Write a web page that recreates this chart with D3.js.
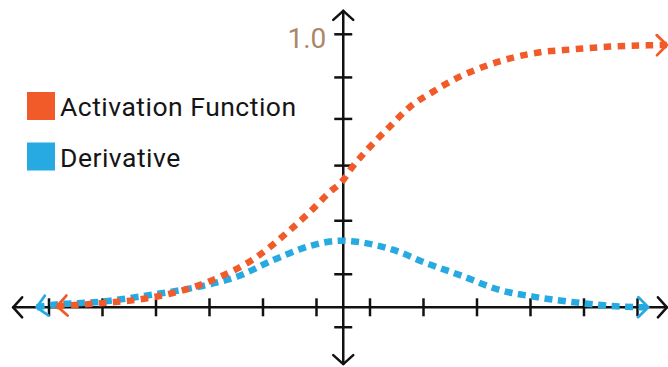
<!DOCTYPE html>
<html>
<head>
<meta charset="utf-8">
<script src="https://cdn.jsdelivr.net/npm/d3@7"></script>
<style>
  html, body { margin: 0; padding: 0; background: #ffffff; }
  svg { display: block; }
  text { font-family: Roboto, "Noto Sans", sans-serif; }
</style>
</head>
<body>
<svg id="chart" width="668" height="367"></svg>
<script>
// Sigmoid activation and its derivative, sampled points
const activationX = [-5.35, -4.55, -3.67, -2.86, -2.37, -1.65, -1.03, -0.62, -0.25, 0.0, 0.13, 0.5, 0.84, 1.25, 1.68, 2.18, 2.62, 3.12, 3.68, 4.3, 4.99, 5.79, 6.05];
const activationY = [0.004, 0.015, 0.033, 0.07, 0.106, 0.18, 0.277, 0.35, 0.423, 0.466, 0.503, 0.588, 0.656, 0.735, 0.79, 0.845, 0.881, 0.912, 0.934, 0.945, 0.955, 0.96, 0.961];

const derivativeX = [-5.73, -5.48, -4.55, -3.61, -2.55, -1.99, -1.31, -0.56, -0.06, 0.25, 0.94, 1.56, 2.18, 2.93, 3.55, 4.48, 5.17, 5.7];
const derivativeY = [0.0, 0.008, 0.02, 0.045, 0.082, 0.112, 0.173, 0.228, 0.244, 0.24, 0.21, 0.161, 0.118, 0.063, 0.039, 0.015, 0.003, 0.0];

const seriesNames = ["Activation Function", "Derivative"];
const seriesColors = ["#f15a29", "#27aae1"];

// Axis ticks (data units) and the single y label
const xTickValues = [-5.5, -4.5, -3.5, -2.5, -1.5, -0.5, 0.5, 1.5, 2.5, 3.5, 4.5, 5.5];
const yTickValues = [-0.073, 0.121, 0.317, 0.519, 0.69, 0.842, 1.0];
const yLabelValue = 1.0;
const yLabelText = "1.0";

// Axis extents (data units)
const xExtent = [-6.17, 6.05];
const yExtent = [-0.208, 1.086];

const svg = d3.select("#chart");

const x = d3.scaleLinear().domain([0, 1]).range([343.25, 396.75]);
const y = d3.scaleLinear().domain([0, 1]).range([307.3, 34.3]);

// Arrowhead markers for the curves
const defs = svg.append("defs");
seriesColors.forEach((c, i) => {
  defs.append("marker")
    .attr("id", "arrow" + i)
    .attr("markerUnits", "userSpaceOnUse")
    .attr("viewBox", "-14 -13 17 26")
    .attr("markerWidth", 17)
    .attr("markerHeight", 26)
    .attr("refX", 0)
    .attr("refY", 0)
    .attr("orient", "auto-start-reverse")
    .append("path")
    .attr("d", "M-10,-10L0,0L-10,10")
    .attr("fill", "none")
    .attr("stroke", c)
    .attr("stroke-width", 2.8)
    .attr("stroke-linecap", "round")
    .attr("stroke-linejoin", "round");
});

// Axes
const axes = svg.append("g").attr("stroke", "#111").attr("fill", "none")
  .attr("stroke-width", 2.5).attr("stroke-linecap", "round");

const x0 = x(0), y0 = y(0);
const xl = x(xExtent[0]), xr = x(xExtent[1]);
const yt = y(yExtent[1]), yb = y(yExtent[0]);

axes.append("line").attr("x1", xl).attr("x2", xr).attr("y1", y0).attr("y2", y0);
axes.append("line").attr("x1", x0).attr("x2", x0).attr("y1", yt).attr("y2", yb);

const ah = 9, aw = 10;
axes.append("path").attr("d", `M${xl + ah},${y0 - aw}L${xl},${y0}L${xl + ah},${y0 + aw}`).attr("stroke-linejoin", "round");
axes.append("path").attr("d", `M${xr - ah},${y0 - aw}L${xr},${y0}L${xr - ah},${y0 + aw}`).attr("stroke-linejoin", "round");
axes.append("path").attr("d", `M${x0 - aw},${yt + ah}L${x0},${yt}L${x0 + aw},${yt + ah}`).attr("stroke-linejoin", "round");
axes.append("path").attr("d", `M${x0 - aw},${yb - ah}L${x0},${yb}L${x0 + aw},${yb - ah}`).attr("stroke-linejoin", "round");

const tickHalf = 9;
axes.selectAll(".xtick").data(xTickValues).join("line")
  .attr("class", "xtick")
  .attr("x1", d => x(d)).attr("x2", d => x(d))
  .attr("y1", y0 - tickHalf).attr("y2", y0 + tickHalf)
  .attr("stroke-linecap", "butt");

axes.selectAll(".ytick").data(yTickValues).join("line")
  .attr("class", "ytick")
  .attr("y1", d => y(d)).attr("y2", d => y(d))
  .attr("x1", x0 - tickHalf).attr("x2", x0 + tickHalf)
  .attr("stroke-linecap", "butt");

svg.append("text")
  .attr("x", x0 - 17)
  .attr("y", y(yLabelValue) + 13.5)
  .attr("text-anchor", "end")
  .attr("font-size", 28)
  .attr("fill", "#a8876a")
  .text(yLabelText);

// Curves
const line = d3.line()
  .x(d => x(d[0]))
  .y(d => y(d[1]))
  .curve(d3.curveMonotoneX);

const derivativePts = derivativeX.map((v, i) => [v, derivativeY[i]]);
const activationPts = activationX.map((v, i) => [v, activationY[i]]);

svg.append("path")
  .datum(derivativePts)
  .attr("d", line)
  .attr("fill", "none")
  .attr("stroke", seriesColors[1])
  .attr("stroke-width", 6.5)
  .attr("stroke-dasharray", "8 5.5")
  .attr("marker-start", "url(#arrow1)")
  .attr("marker-end", "url(#arrow1)");

svg.append("path")
  .datum(activationPts)
  .attr("d", line)
  .attr("fill", "none")
  .attr("stroke", seriesColors[0])
  .attr("stroke-width", 6.5)
  .attr("stroke-dasharray", "7.5 6.5")
  .attr("marker-start", "url(#arrow0)")
  .attr("marker-end", "url(#arrow0)");

// Legend
const legend = svg.append("g");
const legendRows = legend.selectAll("g").data(seriesNames).join("g")
  .attr("transform", (d, i) => `translate(27,${92 + i * 50.5})`);
legendRows.append("rect")
  .attr("width", 28).attr("height", 28)
  .attr("fill", (d, i) => seriesColors[i]);
legendRows.append("text")
  .attr("x", 33).attr("y", 24)
  .attr("font-size", 26.5)
  .attr("letter-spacing", 0.5)
  .attr("fill", "#151515")
  .text(d => d);
</script>
</body>
</html>
